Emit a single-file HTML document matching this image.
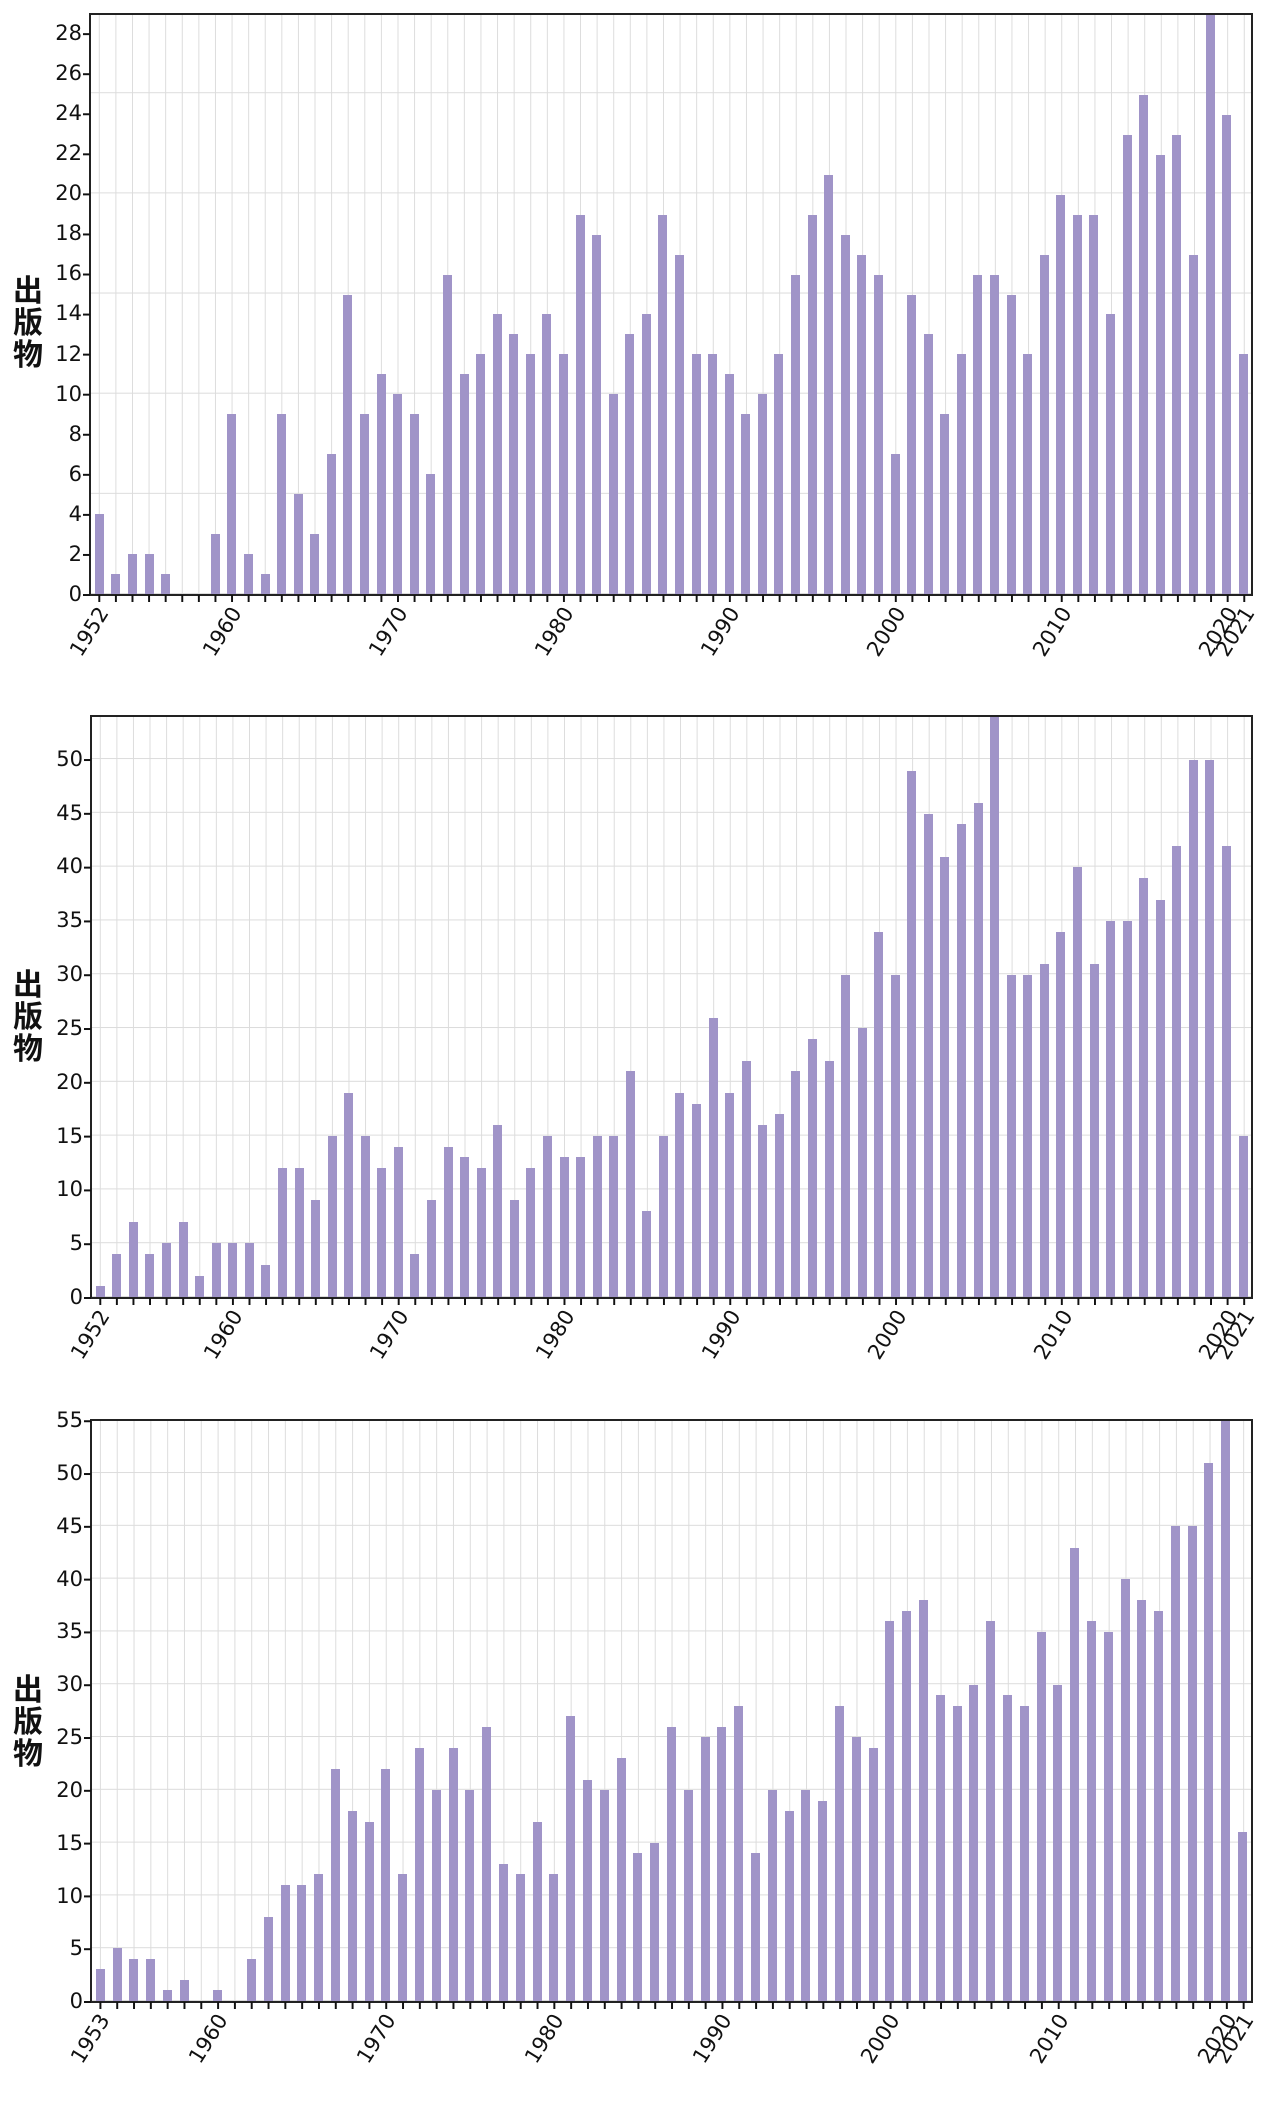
<!DOCTYPE html>
<html><head><meta charset="utf-8">
<style>
*{margin:0;padding:0;box-sizing:border-box}
body{width:1266px;height:2122px;background:#fff;position:relative;overflow:hidden;font-family:"DejaVu Sans","Liberation Sans",sans-serif;color:#111}
.plot{position:absolute;border:2px solid #222;border-bottom:2.5px solid #222;border-left:2.5px solid #222}
.bars{position:absolute;left:0;right:0;top:0;bottom:0;display:flex;align-items:flex-end}
.bars i{flex:1;display:flex;justify-content:center;align-items:flex-end;height:100%}
.bars i b{display:block;width:9px;background:#a094c8}
.c1 b{height:calc(var(--v) * 100% / 29)}
.c2 b{height:calc(var(--v) * 100% / 54)}
.c3 b{height:calc(var(--v) * 100% / 55)}
.xt{position:absolute;height:7px}
.yt{position:absolute;width:7px}
.yl{position:absolute;font-size:21px;text-align:right;width:60px;line-height:22px}
.xl{position:absolute;font-size:21px;line-height:22px;white-space:nowrap;transform-origin:100% 50%;transform:rotate(-58deg)}
.lab{position:absolute;left:12px;width:32px;font-family:"Noto Sans CJK SC",sans-serif;font-weight:bold;font-size:30px;line-height:32px;text-align:center}
</style></head><body>

<!-- Chart 1 -->
<div class="lab" style="top:272px">出<br>版<br>物</div>
<div class="plot" style="left:89px;top:13px;width:1164px;height:583px;
background-image:linear-gradient(to right,transparent 7.8px,#dcdcdc 7.8px,#dcdcdc 9px,transparent 9px),linear-gradient(to top,#dcdcdc 1px,transparent 1px);
background-size:16.6px 100%,100% 100.17px;background-position:0 0,0 100%">
<div class="bars c1">
<i><b style="--v:4"></b></i><i><b style="--v:1"></b></i><i><b style="--v:2"></b></i><i><b style="--v:2"></b></i><i><b style="--v:1"></b></i><i><b style="--v:0"></b></i><i><b style="--v:0"></b></i><i><b style="--v:3"></b></i>
<i><b style="--v:9"></b></i><i><b style="--v:2"></b></i><i><b style="--v:1"></b></i><i><b style="--v:9"></b></i><i><b style="--v:5"></b></i><i><b style="--v:3"></b></i><i><b style="--v:7"></b></i><i><b style="--v:15"></b></i><i><b style="--v:9"></b></i><i><b style="--v:11"></b></i>
<i><b style="--v:10"></b></i><i><b style="--v:9"></b></i><i><b style="--v:6"></b></i><i><b style="--v:16"></b></i><i><b style="--v:11"></b></i><i><b style="--v:12"></b></i><i><b style="--v:14"></b></i><i><b style="--v:13"></b></i><i><b style="--v:12"></b></i><i><b style="--v:14"></b></i>
<i><b style="--v:12"></b></i><i><b style="--v:19"></b></i><i><b style="--v:18"></b></i><i><b style="--v:10"></b></i><i><b style="--v:13"></b></i><i><b style="--v:14"></b></i><i><b style="--v:19"></b></i><i><b style="--v:17"></b></i><i><b style="--v:12"></b></i><i><b style="--v:12"></b></i>
<i><b style="--v:11"></b></i><i><b style="--v:9"></b></i><i><b style="--v:10"></b></i><i><b style="--v:12"></b></i><i><b style="--v:16"></b></i><i><b style="--v:19"></b></i><i><b style="--v:21"></b></i><i><b style="--v:18"></b></i><i><b style="--v:17"></b></i><i><b style="--v:16"></b></i>
<i><b style="--v:7"></b></i><i><b style="--v:15"></b></i><i><b style="--v:13"></b></i><i><b style="--v:9"></b></i><i><b style="--v:12"></b></i><i><b style="--v:16"></b></i><i><b style="--v:16"></b></i><i><b style="--v:15"></b></i><i><b style="--v:12"></b></i><i><b style="--v:17"></b></i>
<i><b style="--v:20"></b></i><i><b style="--v:19"></b></i><i><b style="--v:19"></b></i><i><b style="--v:14"></b></i><i><b style="--v:23"></b></i><i><b style="--v:25"></b></i><i><b style="--v:22"></b></i><i><b style="--v:23"></b></i><i><b style="--v:17"></b></i><i><b style="--v:29"></b></i>
<i><b style="--v:24"></b></i><i><b style="--v:12"></b></i>
</div></div>
<div class="xt" style="left:91px;top:595px;width:1162px;background-image:linear-gradient(to right,transparent 7.4px,#111 7.4px,#111 9.4px,transparent 9.4px);background-size:16.6px 100%"></div>
<div class="yt" style="left:83px;top:13px;height:583px;background-image:linear-gradient(to top,transparent 0,#111 0,#111 2px,transparent 2px);background-size:100% 40.07px;background-position:0 100%"></div>
<div class="yl" style="left:22px;top:583px">0</div>
<div class="yl" style="left:22px;top:543px">2</div>
<div class="yl" style="left:22px;top:503px">4</div>
<div class="yl" style="left:22px;top:463px">6</div>
<div class="yl" style="left:22px;top:423px">8</div>
<div class="yl" style="left:22px;top:383px">10</div>
<div class="yl" style="left:22px;top:343px">12</div>
<div class="yl" style="left:22px;top:302px">14</div>
<div class="yl" style="left:22px;top:262px">16</div>
<div class="yl" style="left:22px;top:222px">18</div>
<div class="yl" style="left:22px;top:182px">20</div>
<div class="yl" style="left:22px;top:142px">22</div>
<div class="yl" style="left:22px;top:102px">24</div>
<div class="yl" style="left:22px;top:62px">26</div>
<div class="yl" style="left:22px;top:22px">28</div>
<div class="xl" style="right:1163px;top:598px">1952</div>
<div class="xl" style="right:1030px;top:598px">1960</div>
<div class="xl" style="right:864px;top:598px">1970</div>
<div class="xl" style="right:698px;top:598px">1980</div>
<div class="xl" style="right:532px;top:598px">1990</div>
<div class="xl" style="right:366px;top:598px">2000</div>
<div class="xl" style="right:200px;top:598px">2010</div>
<div class="xl" style="right:34px;top:598px">2020</div>
<div class="xl" style="right:17px;top:598px">2021</div>

<!-- Chart 2 -->
<div class="lab" style="top:966px">出<br>版<br>物</div>
<div class="plot" style="left:90px;top:715px;width:1163px;height:584px;
background-image:linear-gradient(to right,transparent 7.8px,#dcdcdc 7.8px,#dcdcdc 9px,transparent 9px),linear-gradient(to top,#dcdcdc 1px,transparent 1px);
background-size:16.586px 100%,100% 53.8px;background-position:0 0,0 100%">
<div class="bars c2">
<i><b style="--v:1"></b></i><i><b style="--v:4"></b></i><i><b style="--v:7"></b></i><i><b style="--v:4"></b></i><i><b style="--v:5"></b></i><i><b style="--v:7"></b></i><i><b style="--v:2"></b></i><i><b style="--v:5"></b></i>
<i><b style="--v:5"></b></i><i><b style="--v:5"></b></i><i><b style="--v:3"></b></i><i><b style="--v:12"></b></i><i><b style="--v:12"></b></i><i><b style="--v:9"></b></i><i><b style="--v:15"></b></i><i><b style="--v:19"></b></i><i><b style="--v:15"></b></i><i><b style="--v:12"></b></i>
<i><b style="--v:14"></b></i><i><b style="--v:4"></b></i><i><b style="--v:9"></b></i><i><b style="--v:14"></b></i><i><b style="--v:13"></b></i><i><b style="--v:12"></b></i><i><b style="--v:16"></b></i><i><b style="--v:9"></b></i><i><b style="--v:12"></b></i><i><b style="--v:15"></b></i>
<i><b style="--v:13"></b></i><i><b style="--v:13"></b></i><i><b style="--v:15"></b></i><i><b style="--v:15"></b></i><i><b style="--v:21"></b></i><i><b style="--v:8"></b></i><i><b style="--v:15"></b></i><i><b style="--v:19"></b></i><i><b style="--v:18"></b></i><i><b style="--v:26"></b></i>
<i><b style="--v:19"></b></i><i><b style="--v:22"></b></i><i><b style="--v:16"></b></i><i><b style="--v:17"></b></i><i><b style="--v:21"></b></i><i><b style="--v:24"></b></i><i><b style="--v:22"></b></i><i><b style="--v:30"></b></i><i><b style="--v:25"></b></i><i><b style="--v:34"></b></i>
<i><b style="--v:30"></b></i><i><b style="--v:49"></b></i><i><b style="--v:45"></b></i><i><b style="--v:41"></b></i><i><b style="--v:44"></b></i><i><b style="--v:46"></b></i><i><b style="--v:54"></b></i><i><b style="--v:30"></b></i><i><b style="--v:30"></b></i><i><b style="--v:31"></b></i>
<i><b style="--v:34"></b></i><i><b style="--v:40"></b></i><i><b style="--v:31"></b></i><i><b style="--v:35"></b></i><i><b style="--v:35"></b></i><i><b style="--v:39"></b></i><i><b style="--v:37"></b></i><i><b style="--v:42"></b></i><i><b style="--v:50"></b></i><i><b style="--v:50"></b></i>
<i><b style="--v:42"></b></i><i><b style="--v:15"></b></i>
</div></div>
<div class="xt" style="left:92px;top:1298px;width:1161px;background-image:linear-gradient(to right,transparent 7.4px,#111 7.4px,#111 9.4px,transparent 9.4px);background-size:16.586px 100%"></div>
<div class="yt" style="left:84px;top:715px;height:584px;background-image:linear-gradient(to top,transparent 0,#111 0,#111 2px,transparent 2px);background-size:100% 53.8px;background-position:0 100%"></div>
<div class="yl" style="left:23px;top:1286px">0</div>
<div class="yl" style="left:23px;top:1232px">5</div>
<div class="yl" style="left:23px;top:1178px">10</div>
<div class="yl" style="left:23px;top:1125px">15</div>
<div class="yl" style="left:23px;top:1071px">20</div>
<div class="yl" style="left:23px;top:1017px">25</div>
<div class="yl" style="left:23px;top:963px">30</div>
<div class="yl" style="left:23px;top:909px">35</div>
<div class="yl" style="left:23px;top:855px">40</div>
<div class="yl" style="left:23px;top:802px">45</div>
<div class="yl" style="left:23px;top:748px">50</div>
<div class="xl" style="right:1162px;top:1301px">1952</div>
<div class="xl" style="right:1029px;top:1301px">1960</div>
<div class="xl" style="right:863px;top:1301px">1970</div>
<div class="xl" style="right:697px;top:1301px">1980</div>
<div class="xl" style="right:531px;top:1301px">1990</div>
<div class="xl" style="right:365px;top:1301px">2000</div>
<div class="xl" style="right:199px;top:1301px">2010</div>
<div class="xl" style="right:34px;top:1301px">2020</div>
<div class="xl" style="right:17px;top:1301px">2021</div>

<!-- Chart 3 -->
<div class="lab" style="top:1671px">出<br>版<br>物</div>
<div class="plot" style="left:90px;top:1419px;width:1163px;height:584px;
background-image:linear-gradient(to right,transparent 7.9px,#dcdcdc 7.9px,#dcdcdc 9.1px,transparent 9.1px),linear-gradient(to top,#dcdcdc 1px,transparent 1px);
background-size:16.826px 100%,100% 52.8px;background-position:0 0,0 100%">
<div class="bars c3">
<i><b style="--v:3"></b></i><i><b style="--v:5"></b></i><i><b style="--v:4"></b></i><i><b style="--v:4"></b></i><i><b style="--v:1"></b></i><i><b style="--v:2"></b></i><i><b style="--v:0"></b></i>
<i><b style="--v:1"></b></i><i><b style="--v:0"></b></i><i><b style="--v:4"></b></i><i><b style="--v:8"></b></i><i><b style="--v:11"></b></i><i><b style="--v:11"></b></i><i><b style="--v:12"></b></i><i><b style="--v:22"></b></i><i><b style="--v:18"></b></i><i><b style="--v:17"></b></i>
<i><b style="--v:22"></b></i><i><b style="--v:12"></b></i><i><b style="--v:24"></b></i><i><b style="--v:20"></b></i><i><b style="--v:24"></b></i><i><b style="--v:20"></b></i><i><b style="--v:26"></b></i><i><b style="--v:13"></b></i><i><b style="--v:12"></b></i><i><b style="--v:17"></b></i>
<i><b style="--v:12"></b></i><i><b style="--v:27"></b></i><i><b style="--v:21"></b></i><i><b style="--v:20"></b></i><i><b style="--v:23"></b></i><i><b style="--v:14"></b></i><i><b style="--v:15"></b></i><i><b style="--v:26"></b></i><i><b style="--v:20"></b></i><i><b style="--v:25"></b></i>
<i><b style="--v:26"></b></i><i><b style="--v:28"></b></i><i><b style="--v:14"></b></i><i><b style="--v:20"></b></i><i><b style="--v:18"></b></i><i><b style="--v:20"></b></i><i><b style="--v:19"></b></i><i><b style="--v:28"></b></i><i><b style="--v:25"></b></i><i><b style="--v:24"></b></i>
<i><b style="--v:36"></b></i><i><b style="--v:37"></b></i><i><b style="--v:38"></b></i><i><b style="--v:29"></b></i><i><b style="--v:28"></b></i><i><b style="--v:30"></b></i><i><b style="--v:36"></b></i><i><b style="--v:29"></b></i><i><b style="--v:28"></b></i><i><b style="--v:35"></b></i>
<i><b style="--v:30"></b></i><i><b style="--v:43"></b></i><i><b style="--v:36"></b></i><i><b style="--v:35"></b></i><i><b style="--v:40"></b></i><i><b style="--v:38"></b></i><i><b style="--v:37"></b></i><i><b style="--v:45"></b></i><i><b style="--v:45"></b></i><i><b style="--v:51"></b></i>
<i><b style="--v:55"></b></i><i><b style="--v:16"></b></i>
</div></div>
<div class="xt" style="left:92px;top:2002px;width:1161px;background-image:linear-gradient(to right,transparent 7.5px,#111 7.5px,#111 9.5px,transparent 9.5px);background-size:16.826px 100%"></div>
<div class="yt" style="left:84px;top:1419px;height:584px;background-image:linear-gradient(to top,transparent 0,#111 0,#111 2px,transparent 2px);background-size:100% 52.8px;background-position:0 100%"></div>
<div class="yl" style="left:23px;top:1990px">0</div>
<div class="yl" style="left:23px;top:1937px">5</div>
<div class="yl" style="left:23px;top:1885px">10</div>
<div class="yl" style="left:23px;top:1832px">15</div>
<div class="yl" style="left:23px;top:1779px">20</div>
<div class="yl" style="left:23px;top:1726px">25</div>
<div class="yl" style="left:23px;top:1673px">30</div>
<div class="yl" style="left:23px;top:1620px">35</div>
<div class="yl" style="left:23px;top:1568px">40</div>
<div class="yl" style="left:23px;top:1515px">45</div>
<div class="yl" style="left:23px;top:1462px">50</div>
<div class="yl" style="left:23px;top:1409px">55</div>
<div class="xl" style="right:1162px;top:2005px">1953</div>
<div class="xl" style="right:1044px;top:2005px">1960</div>
<div class="xl" style="right:876px;top:2005px">1970</div>
<div class="xl" style="right:708px;top:2005px">1980</div>
<div class="xl" style="right:540px;top:2005px">1990</div>
<div class="xl" style="right:372px;top:2005px">2000</div>
<div class="xl" style="right:203px;top:2005px">2010</div>
<div class="xl" style="right:35px;top:2005px">2020</div>
<div class="xl" style="right:18px;top:2005px">2021</div>

</body></html>
